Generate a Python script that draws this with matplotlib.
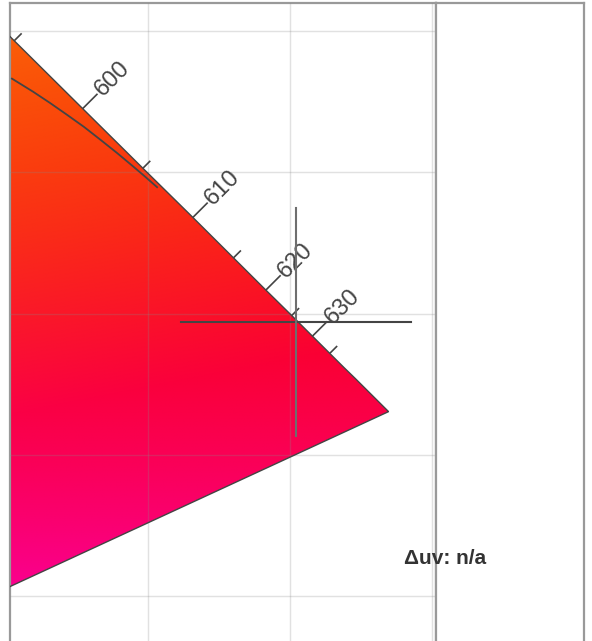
import numpy as np
import matplotlib
matplotlib.use("Agg")
import matplotlib.pyplot as plt
from matplotlib.patches import Polygon

plt.rcParams['font.family'] = ['Liberation Sans', 'DejaVu Sans']

# spectral locus (CIE 1931 xy), red end 590-700 nm, plus the 380 nm end of the purple line
wl = [590, 595, 600, 605, 610, 615, 620, 625, 630, 635, 640, 645, 650,
      655, 660, 665, 670, 675, 680, 685, 690, 695, 700]
loc_x = [0.5752, 0.6029, 0.6270, 0.6482, 0.6658, 0.6801, 0.6915, 0.7006, 0.7079,
         0.7140, 0.7190, 0.7230, 0.7260, 0.7283, 0.7300, 0.7311, 0.7320, 0.7327,
         0.7334, 0.7340, 0.7344, 0.7346, 0.7347]
loc_y = [0.4242, 0.3965, 0.3725, 0.3514, 0.3340, 0.3197, 0.3083, 0.2993, 0.2920,
         0.2859, 0.2809, 0.2770, 0.2740, 0.2717, 0.2700, 0.2689, 0.2680, 0.2673,
         0.2666, 0.2660, 0.2656, 0.2654, 0.2653]
violet_end = (0.1741, 0.0050)

# planckian locus, low temperature part
planck_x = [0.6021, 0.6095, 0.6155, 0.6215, 0.6275, 0.6331, 0.6391, 0.6447, 0.6489, 0.6532]
planck_y = [0.3831, 0.3785, 0.3745, 0.3703, 0.3660, 0.3616, 0.3568, 0.3521, 0.3485, 0.3447]

label_wl = [600, 610, 620, 630]
minor_wl = [595, 605, 615, 625, 635]

target = (0.7022, 0.2970)
cross_half = 0.0405
duv_text = "Δuv: n/a"

xlim = (0.60141, 0.75141)
ylim = (0.18415, 0.40986)

fig = plt.figure(figsize=(5.92, 6.41), dpi=100)
ax = fig.add_axes([10 / 592, 0, 426 / 592, 638 / 641])
side = fig.add_axes([436 / 592, 0, 148 / 592, 638 / 641])

# colour fill: smooth gradient orange (top) -> red -> pink (bottom)
gx, gy = np.meshgrid(np.linspace(0.59, 0.76, 340), np.linspace(0.17, 0.42, 500))
dx = gx - 0.6032
dy = gy - 0.3951
R = 250 + 0 * dx
G = 92 - 140 * dx + 700 * dy
B = 8 + 3650 * np.minimum(dy, 0) ** 2
rgb = np.clip(np.dstack([R, G, B]) / 255.0, 0, 1)

poly_pts = list(zip(loc_x, loc_y)) + [violet_end]
poly = Polygon(poly_pts, closed=True, facecolor='none', edgecolor='#444444', lw=1.0, zorder=3)
ax.add_patch(poly)
im = ax.imshow(rgb, origin='lower', extent=(0.59, 0.76, 0.17, 0.42),
               interpolation='bilinear', zorder=1, aspect='auto')
im.set_clip_path(poly)

ax.plot(planck_x, planck_y, color='#444444', lw=1.3, zorder=4)

# wavelength ticks and labels
lx = np.array(loc_x)
ly = np.array(loc_y)
for w in label_wl + minor_wl:
    i = wl.index(w)
    tx = lx[i + 1] - lx[i - 1]
    ty = ly[i + 1] - ly[i - 1]
    n = np.hypot(tx, ty)
    nx, ny = -ty / n, tx / n
    length = 0.0074 if w in label_wl else 0.0037
    ax.plot([lx[i], lx[i] + nx * length], [ly[i], ly[i] + ny * length],
            color='#444444', lw=1.2, zorder=4, solid_capstyle='butt')
    if w in label_wl:
        ang = np.degrees(np.arctan2(ny, nx))
        ax.text(lx[i] + nx * (length + 0.0004), ly[i] + ny * (length + 0.0004), str(w),
                rotation=ang, rotation_mode='anchor', ha='left', va='center',
                fontsize=17, color='#444444', zorder=5)

# target crosshair
ax.plot([target[0] - cross_half, target[0] + cross_half], [target[1], target[1]],
        color='#444444', lw=1.5, zorder=6)
ax.plot([target[0], target[0]], [target[1] - cross_half, target[1] + cross_half],
        color='#6e6e6e', lw=1.5, zorder=6)

ax.set_xlim(*xlim)
ax.set_ylim(*ylim)
ax.set_xticks([0.65, 0.70, 0.75])
ax.set_yticks([0.20, 0.25, 0.30, 0.35, 0.40])
ax.tick_params(length=0, labelbottom=False, labelleft=False)
ax.grid(True, color='#888888', alpha=0.25, lw=1.0, zorder=7)
ax.set_axisbelow(False)

for a in (ax, side):
    for s in ('top', 'left', 'right'):
        a.spines[s].set_color('#999999')
        a.spines[s].set_linewidth(1.6)
    a.spines['bottom'].set_visible(False)
side.set_xticks([])
side.set_yticks([])

fig.text(445 / 592, 1 - 558 / 641, duv_text, ha='center', va='center',
         fontsize=15, fontweight='bold', color='#333333')

fig.savefig('out.png', dpi=100)
